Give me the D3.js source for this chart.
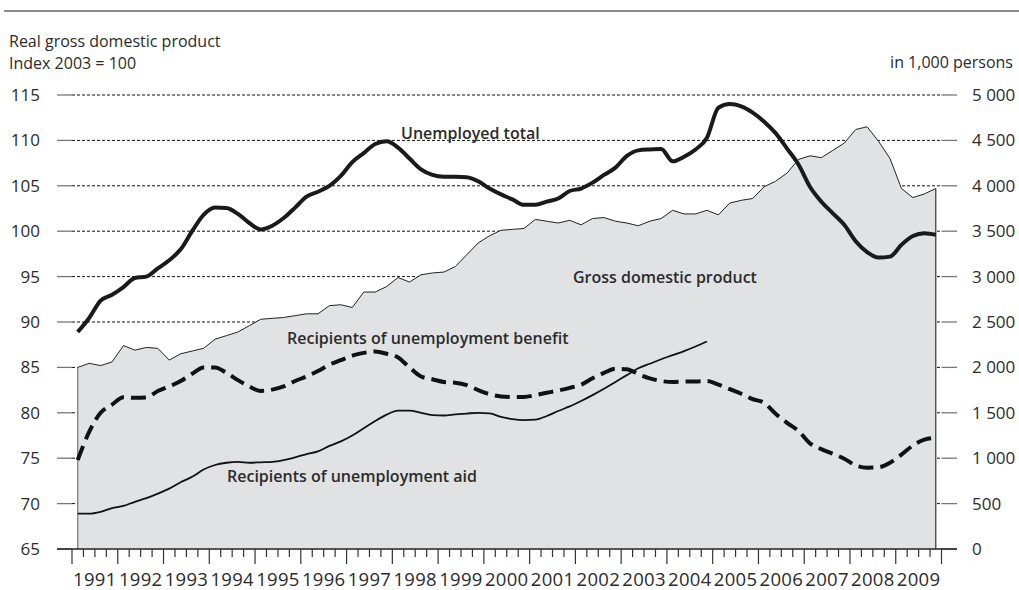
<!DOCTYPE html>
<html lang="en">
<head>
<meta charset="UTF-8">
<title>GDP and unemployment</title>
<style>
  body { margin: 0; background: #fff; }
  svg text { font-family: "Open Sans", "Noto Sans", sans-serif; fill: #2b2b2b; }
</style>
</head>
<body>
<svg id="svg" width="1019" height="590"></svg>
<script src="https://d3js.org/d3.v7.min.js"></script>
<script>
// years on the x axis, one value per quarter from 1991 Q1
const years = d3.range(1991, 2010)

// real GDP, index 2003 = 100 (left axis)
const gdp = [
  85.0, 85.45, 85.2, 85.6,
  87.4, 86.9, 87.2, 87.1,
  85.8, 86.5, 86.8, 87.1,
  88.1, 88.5, 88.9, 89.6,
  90.3, 90.4, 90.5, 90.7,
  90.9, 90.9, 91.8, 91.9,
  91.6, 93.3, 93.3, 93.9,
  94.9, 94.4, 95.2, 95.4,
  95.5, 96.1, 97.4, 98.7,
  99.5, 100.1, 100.2, 100.3,
  101.3, 101.1, 100.9, 101.2,
  100.7, 101.4, 101.5, 101.1,
  100.9, 100.6, 101.1, 101.4,
  102.3, 101.9, 101.9, 102.3,
  101.8, 103.1, 103.4, 103.6,
  104.9, 105.5, 106.4, 107.9,
  108.3, 108.1, 108.9, 109.7,
  111.2, 111.5, 109.9, 108.0,
  104.7, 103.7, 104.1, 104.7
]

// in 1,000 persons (right axis)
const unemployed = [
  2390, 2544, 2735, 2800,
  2885, 2985, 3000, 3090,
  3180, 3300, 3500, 3680,
  3760, 3755, 3690, 3590,
  3520, 3560, 3645, 3760,
  3880, 3935, 4000, 4110,
  4260, 4360, 4460, 4490,
  4420, 4300, 4180, 4120,
  4100, 4100, 4095, 4050,
  3970, 3905, 3850, 3790,
  3790, 3825, 3860, 3943,
  3970, 4035, 4120, 4200,
  4330, 4390, 4400, 4405,
  4270, 4320, 4400, 4530,
  4860, 4900, 4875, 4805,
  4706, 4580, 4410, 4235,
  3990, 3825, 3697, 3570,
  3390, 3270, 3210, 3220,
  3350, 3447, 3477, 3460
]

const benefit = [
  980, 1290, 1500, 1590,
  1670, 1665, 1670, 1740,
  1790, 1850, 1930, 2000,
  2000, 1940, 1860, 1790,
  1740, 1755, 1790, 1850,
  1900, 1960, 2030, 2080,
  2130, 2160, 2175, 2150,
  2110, 2000, 1900, 1870,
  1840, 1832, 1805, 1750,
  1705, 1680, 1675, 1675,
  1695, 1720, 1745, 1775,
  1810, 1880, 1940, 1985,
  1980, 1925, 1880, 1850,
  1840, 1845, 1845, 1850,
  1810, 1760, 1710, 1650,
  1610, 1490, 1390, 1300,
  1164, 1100, 1050, 995,
  920, 895, 900, 950,
  1040, 1140, 1205, 1225
]

// unemployment aid ends with 2004
const aid = [
  390, 390, 410, 450,
  474, 520, 560, 610,
  665, 735, 795, 875,
  925, 950, 960, 950,
  955, 960, 980, 1010,
  1045, 1075, 1135, 1185,
  1250, 1330, 1410, 1480,
  1525, 1525, 1500, 1475,
  1470, 1482, 1492, 1500,
  1494, 1455, 1430, 1420,
  1425, 1465, 1520, 1570,
  1630, 1695, 1765, 1840,
  1915, 1990, 2040, 2090,
  2135, 2180, 2230, 2285
]

const leftTicks = [65, 70, 75, 80, 85, 90, 95, 100, 105, 110, 115]
const rightTicks = [0, 500, 1000, 1500, 2000, 2500, 3000, 3500, 4000, 4500, 5000]
const rightTickLabels = ["0", "500", "1 000", "1 500", "2 000", "2 500", "3 000", "3 500", "4 000", "4 500", "5 000"]

const svg = d3.select("svg#svg")
const plotLeft = 72, plotRight = 941.5, plotTop = 95, plotBottom = 549

const x = d3.scaleLinear().domain([1991, 2010]).range([plotLeft, plotRight])
const yL = d3.scaleLinear().domain([65, 115]).range([plotBottom, plotTop])
const yR = d3.scaleLinear().domain([0, 5000]).range([plotBottom, plotTop])
const qx = i => x(1991 + (i + 0.5) / 4)

// top rule
svg.append("line").attr("x1", 4).attr("x2", 1019).attr("y1", 11).attr("y2", 11)
  .attr("stroke", "#8c8c8c").attr("stroke-width", 2)

// headings
svg.append("text").attr("x", 9).attr("y", 47).attr("font-size", 16).text("Real gross domestic product")
svg.append("text").attr("x", 9).attr("y", 69).attr("font-size", 16).text("Index 2003 = 100")
svg.append("text").attr("x", 1013).attr("y", 68).attr("font-size", 16).attr("text-anchor", "end").text("in 1,000 persons")

// grid lines
svg.append("g").selectAll("line").data(leftTicks.filter(d => d > 65)).join("line")
  .attr("x1", plotLeft).attr("x2", plotRight).attr("y1", d => yL(d)).attr("y2", d => yL(d))
  .attr("stroke", "#111").attr("stroke-width", 1).attr("stroke-dasharray", "3,2")

// GDP area
const area = d3.area().x((d, i) => qx(i)).y0(plotBottom).y1(d => yL(d))
svg.append("path").datum(gdp).attr("d", area).attr("fill", "#e1e2e4")
const gdpLine = d3.line().x((d, i) => qx(i)).y(d => yL(d))
svg.append("path").datum(gdp).attr("d", gdpLine).attr("fill", "none").attr("stroke", "#222").attr("stroke-width", 1)
svg.append("line").attr("x1", qx(0)).attr("x2", qx(0)).attr("y1", yL(gdp[0])).attr("y2", plotBottom)
  .attr("stroke", "#777").attr("stroke-width", 1.2)
svg.append("line").attr("x1", qx(gdp.length - 1)).attr("x2", qx(gdp.length - 1))
  .attr("y1", yL(gdp[gdp.length - 1])).attr("y2", plotBottom).attr("stroke", "#333").attr("stroke-width", 1.2)

// axis tick marks left and right
svg.append("g").selectAll("line").data(leftTicks).join("line")
  .attr("x1", 57).attr("x2", plotLeft).attr("y1", d => yL(d)).attr("y2", d => yL(d))
  .attr("stroke", "#777").attr("stroke-width", 1.3)
svg.append("g").selectAll("line").data(rightTicks).join("line")
  .attr("x1", plotRight).attr("x2", 957).attr("y1", d => yR(d)).attr("y2", d => yR(d))
  .attr("stroke", "#777").attr("stroke-width", 1.3)

svg.append("g").selectAll("text").data(leftTicks).join("text")
  .attr("x", 40).attr("y", d => yL(d) + 6).attr("text-anchor", "end").attr("font-size", 17)
  .text(d => d)
svg.append("g").selectAll("text").data(rightTicks).join("text")
  .attr("x", 972).attr("y", d => yR(d) + 6).attr("font-size", 17)
  .text((d, i) => rightTickLabels[i])

// lines
const smooth = d3.line().x((d, i) => qx(i)).y(d => yR(d)).curve(d3.curveMonotoneX)
svg.append("path").datum(aid).attr("d", smooth).attr("fill", "none")
  .attr("stroke", "#111").attr("stroke-width", 1.8)
svg.append("path").datum(benefit).attr("d", smooth).attr("fill", "none")
  .attr("stroke", "#111").attr("stroke-width", 4).attr("stroke-dasharray", "15,7")
svg.append("path").datum(unemployed).attr("d", smooth).attr("fill", "none")
  .attr("stroke", "#1a1a1a").attr("stroke-width", 4).attr("stroke-linejoin", "round")

// x axis
svg.append("line").attr("x1", 57).attr("x2", 957).attr("y1", plotBottom).attr("y2", plotBottom)
  .attr("stroke", "#222").attr("stroke-width", 1.5)
const quarters = d3.range(0, 19 * 4 + 1).map(i => 1991 + i / 4)
svg.append("g").selectAll("line").data(quarters).join("line")
  .attr("x1", d => x(d)).attr("x2", d => x(d)).attr("y1", plotBottom)
  .attr("y2", (d, i) => i % 4 === 0 ? 564 : 557)
  .attr("stroke", "#333").attr("stroke-width", 1.2)
svg.append("g").selectAll("text").data(years).join("text")
  .attr("x", d => x(d + 0.5)).attr("y", 586).attr("text-anchor", "middle").attr("font-size", 18.5)
  .attr("letter-spacing", 0.3)
  .text(d => d)

// series labels
const labels = [
  { t: "Unemployed total", x: 401, y: 139 },
  { t: "Gross domestic product", x: 573, y: 283 },
  { t: "Recipients of unemployment benefit", x: 287, y: 344 },
  { t: "Recipients of unemployment aid", x: 227, y: 482 }
]
svg.append("g").selectAll("text").data(labels).join("text")
  .attr("x", d => d.x).attr("y", d => d.y).attr("font-size", 16).attr("font-weight", 600)
  .attr("fill", "#1e1e1e").text(d => d.t)
</script>
</body>
</html>
